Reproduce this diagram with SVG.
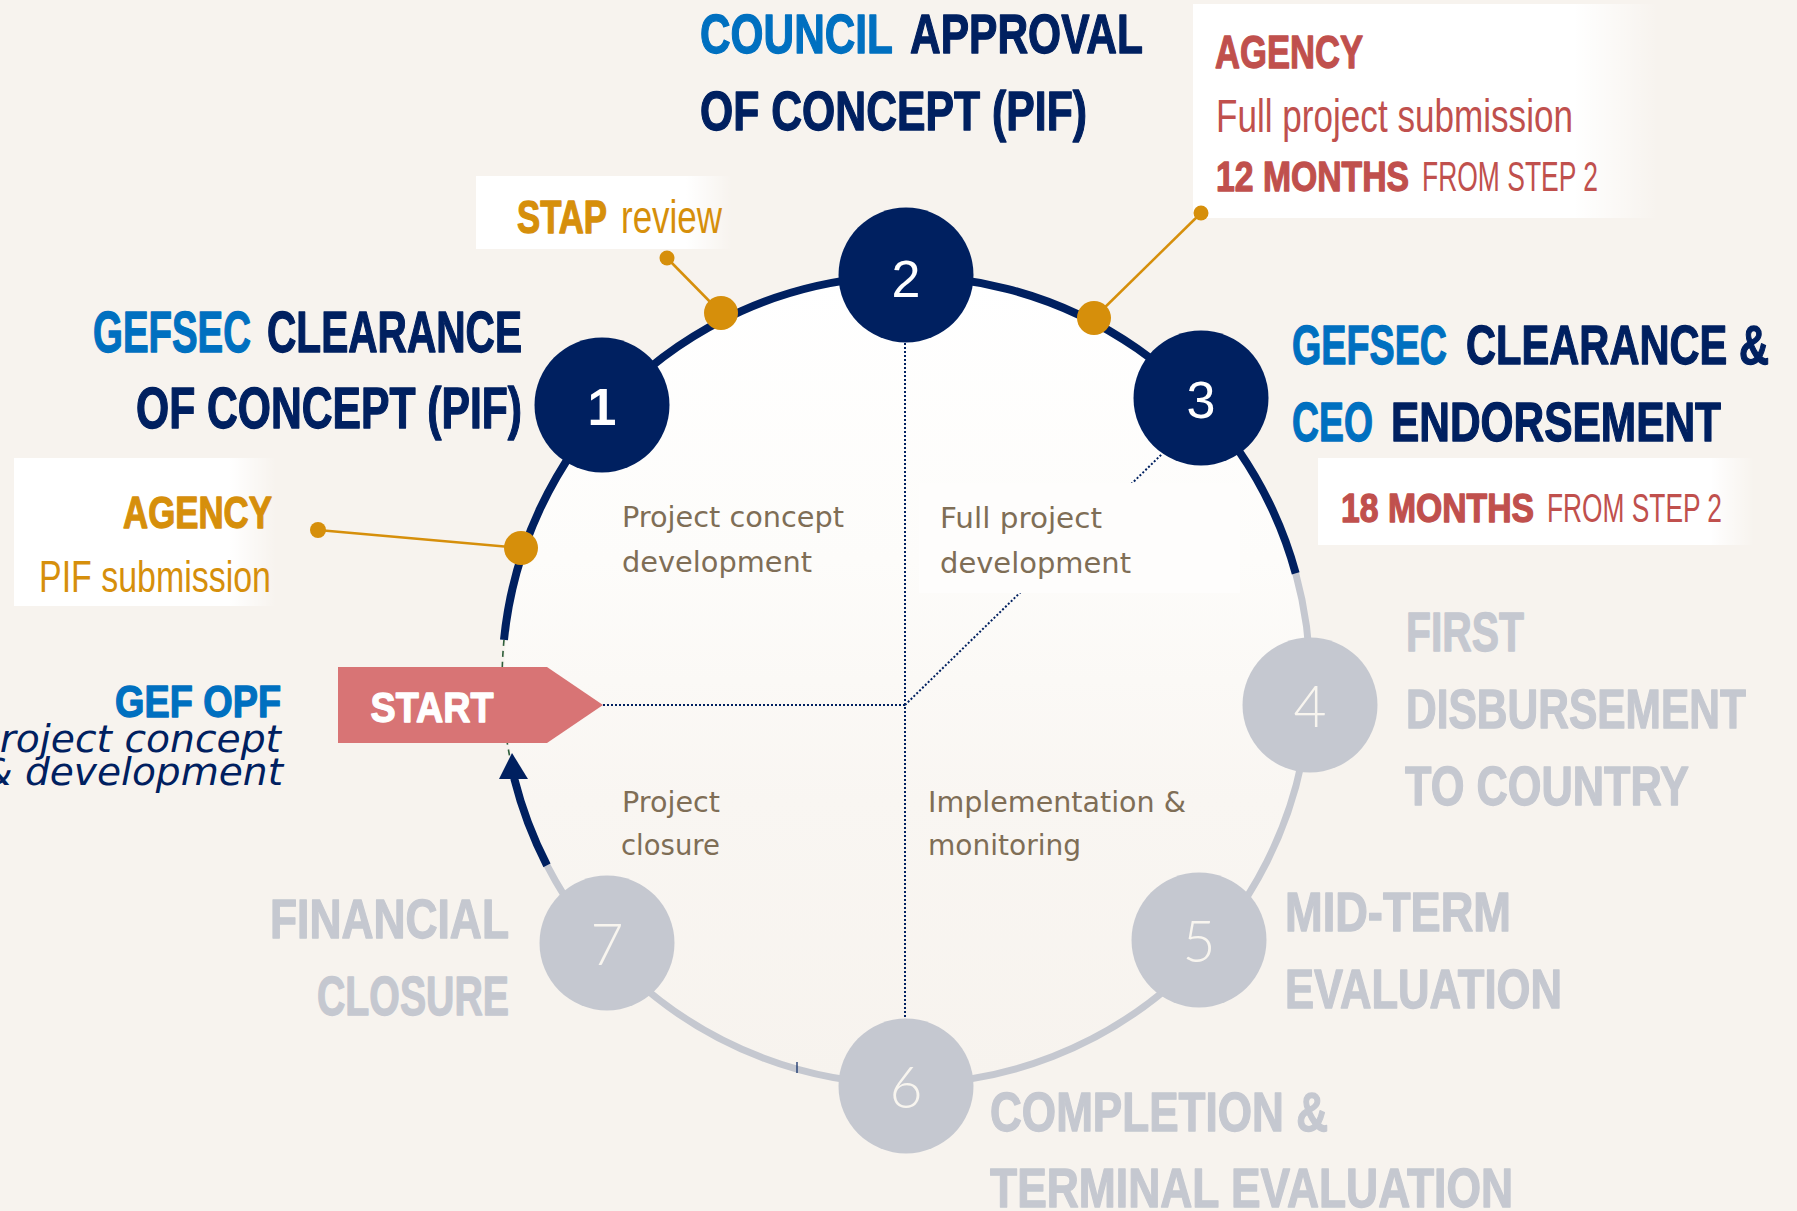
<svg xmlns="http://www.w3.org/2000/svg" width="1797" height="1211" viewBox="0 0 1797 1211">
<defs>
  <linearGradient id="inner" x1="0" y1="0" x2="0" y2="1">
    <stop offset="0" stop-color="#ffffff"/>
    <stop offset="0.35" stop-color="#fdfcfa"/>
    <stop offset="0.65" stop-color="#f9f6f2"/>
    <stop offset="1" stop-color="#f7f3ee"/>
  </linearGradient>
  <linearGradient id="fadeR" x1="0" y1="0" x2="1" y2="0">
    <stop offset="0" stop-color="#ffffff" stop-opacity="1"/>
    <stop offset="0.82" stop-color="#ffffff" stop-opacity="1"/>
    <stop offset="1" stop-color="#ffffff" stop-opacity="0"/>
  </linearGradient>
  <linearGradient id="fadeR2" x1="0" y1="0" x2="1" y2="0">
    <stop offset="0" stop-color="#ffffff" stop-opacity="1"/>
    <stop offset="0.9" stop-color="#ffffff" stop-opacity="1"/>
    <stop offset="1" stop-color="#ffffff" stop-opacity="0"/>
  </linearGradient>
  <style>
    .h{font-family:"Liberation Sans Narrow","Liberation Sans",Arial,sans-serif;font-weight:bold;stroke-width:1.3;stroke-linejoin:round;}
    .r{font-family:"Liberation Sans Narrow","Liberation Sans",Arial,sans-serif;font-weight:normal;stroke-width:0;}
    .body{font-family:"DejaVu Sans","Lato",sans-serif;font-size:29px;fill:#7f6e56;}
    .it{font-family:"DejaVu Sans","Liberation Sans",sans-serif;font-style:italic;font-size:37px;fill:#002060;}
    .blue{fill:#0070c0;stroke:#0070c0;}
    .navy{fill:#002060;stroke:#002060;}
    .red{fill:#c0504d;stroke:#c0504d;}
    .org{fill:#d68f0b;stroke:#d68f0b;}
    .grey{fill:#c5c8d0;stroke:#c5c8d0;}
    .white{fill:#ffffff;stroke:#ffffff;}
    .nd{fill:#002060;}
    .ng{fill:#c5c8d0;}
    .num{font-family:"Liberation Sans",Arial,sans-serif;font-size:52px;fill:#ffffff;text-anchor:middle;}
    .numg{font-family:"Lato","Liberation Sans",sans-serif;font-weight:300;font-size:57px;fill:#f8f5ef;text-anchor:middle;}
    .navyArc{fill:none;stroke:#002060;stroke-width:8;}
    .greyArc{fill:none;stroke:#c5c8d0;stroke-width:7;}
    .dot{fill:none;stroke:#002060;stroke-width:2;stroke-dasharray:2 2;}
    .call{stroke:#d68f0b;stroke-width:2.5;fill:none;}
  </style>
</defs>

<rect x="0" y="0" width="1797" height="1211" fill="#f7f3ee"/>

<!-- ring interior -->
<circle cx="906" cy="680" r="402" fill="url(#inner)"/>

<!-- label boxes -->
<rect x="476" y="176" width="256" height="73" fill="url(#fadeR)"/>
<rect x="1193" y="4" width="465" height="214" fill="url(#fadeR)"/>
<rect x="14" y="458" width="262" height="148" fill="url(#fadeR)"/>
<rect x="1318" y="458" width="436" height="87" fill="url(#fadeR2)"/>

<g id="connectors">
  <line class="dot" x1="905" y1="343" x2="905" y2="1019"/>
  <line class="dot" x1="603" y1="705" x2="905" y2="705"/>
  <line class="dot" x1="905" y1="705" x2="1162" y2="454"/>
  <path class="greyArc" d="M 1295.7 573.4 A 404 404 0 0 1 547.0 865.3"/>
  <path class="navyArc" d="M 504.0 639.9 A 404 404 0 0 1 1295.7 573.4"/>
  <path class="navyArc" d="M 514.2 778.4 A 404 404 0 0 0 547.0 865.3"/>
  <path d="M 504.0 639.9 A 404 404 0 0 0 510.0 758.0" fill="none" stroke="#2e5e3a" stroke-width="1.6" stroke-dasharray="6 5"/>
  <polygon points="512,753 499,779 528,779" fill="#002060"/>
  <line x1="797" y1="1062" x2="797" y2="1073" stroke="#002060" stroke-width="1.2"/>
  <line class="call" x1="667" y1="258" x2="721" y2="313"/>
  <circle cx="667" cy="258" r="7.5" fill="#d68f0b"/>
  <circle cx="721" cy="313" r="17" fill="#d68f0b"/>
  <line class="call" x1="1201" y1="213" x2="1094" y2="318"/>
  <circle cx="1201" cy="213" r="7.5" fill="#d68f0b"/>
  <circle cx="1094" cy="318" r="17" fill="#d68f0b"/>
  <line class="call" x1="318" y1="530" x2="521" y2="548"/>
  <circle cx="318" cy="530" r="8" fill="#d68f0b"/>
  <circle cx="521" cy="548" r="17" fill="#d68f0b"/>
</g>

<rect x="919" y="483" width="321" height="110" fill="#fefdfc"/>

<g id="start">
  <polygon points="338,667 547,667 603,705 547,743 338,743" fill="#d87475"/>
  <text class="h white" x="370.5" y="722" font-size="43" textLength="123" lengthAdjust="spacingAndGlyphs">START</text>
</g>

<g id="node1">
  <circle class="nd" cx="602" cy="405" r="67.5"/>
  <text class="num" x="602" y="425" font-weight="bold" font-size="55">1</text>
</g>
<g id="node2">
  <circle class="nd" cx="906" cy="275" r="67.5"/>
  <text class="num" x="906" y="297">2</text>
</g>
<g id="node3">
  <circle class="nd" cx="1201" cy="398" r="67.5"/>
  <text class="num" x="1201" y="418">3</text>
</g>
<g id="node4">
  <circle class="ng" cx="1310" cy="705" r="67.5"/>
  <text class="numg" x="1310" y="727">4</text>
</g>
<g id="node5">
  <circle class="ng" cx="1199" cy="940" r="67.5"/>
  <text class="numg" x="1199" y="962">5</text>
</g>
<g id="node6">
  <circle class="ng" cx="906" cy="1086" r="67.5"/>
  <text class="numg" x="906" y="1108">6</text>
</g>
<g id="node7">
  <circle class="ng" cx="607" cy="943" r="67.5"/>
  <text class="numg" x="607" y="965">7</text>
</g>

<g id="label2">
  <text class="h blue" x="700" y="53" font-size="56" textLength="193" lengthAdjust="spacingAndGlyphs">COUNCIL</text>
  <text class="h navy" x="910" y="53" font-size="56" textLength="233" lengthAdjust="spacingAndGlyphs">APPROVAL</text>
  <text class="h navy" x="700" y="130" font-size="56" textLength="387" lengthAdjust="spacingAndGlyphs">OF CONCEPT (PIF)</text>
</g>

<g id="label1">
  <text class="h blue" x="93" y="352" font-size="57" textLength="158" lengthAdjust="spacingAndGlyphs">GEFSEC</text>
  <text class="h navy" x="267" y="352" font-size="57" textLength="255" lengthAdjust="spacingAndGlyphs">CLEARANCE</text>
  <text class="h navy" x="136" y="428" font-size="57" textLength="386" lengthAdjust="spacingAndGlyphs">OF CONCEPT (PIF)</text>
</g>

<g id="label3">
  <text class="h blue" x="1292" y="364" font-size="56" textLength="155" lengthAdjust="spacingAndGlyphs">GEFSEC</text>
  <text class="h navy" x="1466" y="364" font-size="56" textLength="303" lengthAdjust="spacingAndGlyphs">CLEARANCE &amp;</text>
  <text class="h blue" x="1292" y="441" font-size="56" textLength="81" lengthAdjust="spacingAndGlyphs">CEO</text>
  <text class="h navy" x="1391" y="441" font-size="56" textLength="330" lengthAdjust="spacingAndGlyphs">ENDORSEMENT</text>
  <text class="h red" x="1341" y="522" font-size="40" textLength="193" lengthAdjust="spacingAndGlyphs">18 MONTHS</text>
  <text class="r red" x="1547" y="522" font-size="40" textLength="175" lengthAdjust="spacingAndGlyphs">FROM STEP 2</text>
</g>

<g id="stap">
  <text class="h org" x="517" y="233" font-size="46" textLength="90" lengthAdjust="spacingAndGlyphs">STAP</text>
  <text class="r org" x="621" y="233" font-size="46" textLength="101" lengthAdjust="spacingAndGlyphs">review</text>
</g>
<g id="agencyFull">
  <text class="h red" x="1215" y="68" font-size="46" textLength="148" lengthAdjust="spacingAndGlyphs">AGENCY</text>
  <text class="r red" x="1216" y="132" font-size="46" textLength="357" lengthAdjust="spacingAndGlyphs">Full project submission</text>
  <text class="h red" x="1216" y="191" font-size="42" textLength="193" lengthAdjust="spacingAndGlyphs">12 MONTHS</text>
  <text class="r red" x="1422" y="191" font-size="42" textLength="176" lengthAdjust="spacingAndGlyphs">FROM STEP 2</text>
</g>
<g id="agencyPIF">
  <text class="h org" x="123" y="528" font-size="45" textLength="149" lengthAdjust="spacingAndGlyphs">AGENCY</text>
  <text class="r org" x="39" y="592" font-size="44" textLength="232" lengthAdjust="spacingAndGlyphs">PIF submission</text>
</g>
<g id="opf">
  <text class="h blue" x="115" y="717" font-size="44" textLength="166" lengthAdjust="spacingAndGlyphs">GEF OPF</text>
  <text class="it" x="-24" y="752" textLength="305" lengthAdjust="spacingAndGlyphs">Project concept</text>
  <text class="it" x="-18" y="785" textLength="301" lengthAdjust="spacingAndGlyphs">&amp; development</text>
</g>

<g id="phases">
  <text class="body" x="622" y="527" textLength="222" lengthAdjust="spacingAndGlyphs">Project concept</text>
  <text class="body" x="622" y="572" textLength="190" lengthAdjust="spacingAndGlyphs">development</text>
  <text class="body" x="940" y="528" textLength="162" lengthAdjust="spacingAndGlyphs">Full project</text>
  <text class="body" x="940" y="573" textLength="191" lengthAdjust="spacingAndGlyphs">development</text>
  <text class="body" x="622" y="812" textLength="98" lengthAdjust="spacingAndGlyphs">Project</text>
  <text class="body" x="621" y="855" textLength="99" lengthAdjust="spacingAndGlyphs">closure</text>
  <text class="body" x="928" y="812" textLength="258" lengthAdjust="spacingAndGlyphs">Implementation &amp;</text>
  <text class="body" x="928" y="855" textLength="153" lengthAdjust="spacingAndGlyphs">monitoring</text>
</g>

<g id="label4">
  <text class="h grey" x="1406" y="651" font-size="55" textLength="118" lengthAdjust="spacingAndGlyphs">FIRST</text>
  <text class="h grey" x="1406" y="728" font-size="55" textLength="340" lengthAdjust="spacingAndGlyphs">DISBURSEMENT</text>
  <text class="h grey" x="1405" y="805" font-size="55" textLength="284" lengthAdjust="spacingAndGlyphs">TO COUNTRY</text>
</g>
<g id="label5">
  <text class="h grey" x="1285" y="931" font-size="55" textLength="226" lengthAdjust="spacingAndGlyphs">MID-TERM</text>
  <text class="h grey" x="1285" y="1008" font-size="55" textLength="277" lengthAdjust="spacingAndGlyphs">EVALUATION</text>
</g>
<g id="label6">
  <text class="h grey" x="990" y="1131" font-size="55" textLength="338" lengthAdjust="spacingAndGlyphs">COMPLETION &amp;</text>
  <text class="h grey" x="990" y="1207" font-size="55" textLength="523" lengthAdjust="spacingAndGlyphs">TERMINAL EVALUATION</text>
</g>
<g id="label7">
  <text class="h grey" x="270" y="938" font-size="55" textLength="239" lengthAdjust="spacingAndGlyphs">FINANCIAL</text>
  <text class="h grey" x="317" y="1015" font-size="55" textLength="192" lengthAdjust="spacingAndGlyphs">CLOSURE</text>
</g>
</svg>
